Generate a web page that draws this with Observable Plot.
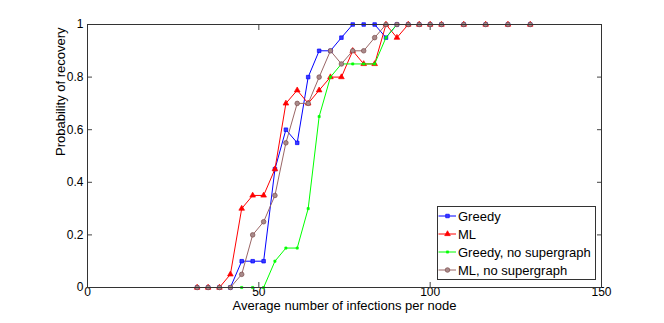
<!DOCTYPE html>
<html>
<head>
<meta charset="utf-8">
<script src="https://cdn.jsdelivr.net/npm/d3@7"></script>
<script src="https://cdn.jsdelivr.net/npm/@observablehq/plot@0.6"></script>
<style>
  html, body { margin: 0; padding: 0; background: #fff; }
  #wrap { position: relative; width: 664px; height: 323px; font-family: "Liberation Sans", Arial, sans-serif; }
  #legend { position: absolute; left: 437px; top: 206px; width: 157px; height: 72px; border: 1px solid #333; background: #fff; }
  .row { height: 18px; display: flex; align-items: center; font-size: 13px; color: #000; white-space: nowrap; }
  .row svg { display: block; margin-right: 1px; }
</style>
</head>
<body>
<div id="wrap"></div>
<script>
// x values (average number of infections per node)
const xs = [32.0, 35.2, 38.5, 41.7, 45.0, 48.2, 51.4, 54.7, 57.9, 61.2, 64.4, 67.6, 70.9, 74.1, 77.4, 80.6, 83.8, 87.1, 90.3, 93.6, 96.8, 100.0, 103.3, 109.8, 116.2, 122.7, 129.2];
const greedy =        [0, 0, 0, 0, 0.10, 0.10, 0.10, 0.45, 0.60, 0.55, 0.80, 0.90, 0.90, 0.95, 1, 1, 1, 0.95, 1, 1, 1, 1, 1, 1, 1, 1, 1];
const ml =            [0, 0, 0, 0.05, 0.30, 0.35, 0.35, 0.45, 0.70, 0.75, 0.70, 0.75, 0.80, 0.80, 0.90, 0.85, 0.85, 1, 0.95, 1, 1, 1, 1, 1, 1, 1, 1];
const greedyNoSuper = [0, 0, 0, 0, 0, 0, 0, 0.10, 0.15, 0.15, 0.30, 0.65, 0.80, 0.85, 0.85, 0.85, 0.85, 0.95, 1, 1, 1, 1, 1, 1, 1, 1, 1];
const mlNoSuper =     [0, 0, 0, 0, 0.05, 0.20, 0.25, 0.35, 0.55, 0.70, 0.70, 0.80, 0.90, 0.85, 0.90, 0.90, 0.95, 1, 1, 1, 1, 1, 1, 1, 1, 1, 1];

const seriesNames = ["Greedy", "ML", "Greedy, no supergraph", "ML, no supergraph"];
const xTicks = [0, 50, 100, 150];
const yTicks = [0, 0.2, 0.4, 0.6, 0.8, 1];
const xLabel = "Average number of infections per node";
const yLabel = "Probability of recovery";

const styles = [
  {line: "#0000ff", symbol: "square", r: 2.0, fill: "#3a3aff", stroke: "#0000ff"},
  {line: "#ff0000", symbol: "triangle", r: 2.1, fill: "#ff0000", stroke: "#ff0000"},
  {line: "#00ff00", symbol: "square", r: 1.2, fill: "#00ff00", stroke: "#00ff00"},
  {line: "#9a6666", symbol: "circle", r: 2.3, fill: "#a88a8a", stroke: "#7d4c4c"}
];
const allValues = [greedy, ml, greedyNoSuper, mlNoSuper];

const seriesMarks = allValues.flatMap((vals, i) => {
  const rows = xs.map((x, j) => ({x, y: vals[j]}));
  const s = styles[i];
  return [
    Plot.line(rows, {x: "x", y: "y", stroke: s.line, strokeWidth: 1}),
    Plot.dot(rows, {x: "x", y: "y", symbol: s.symbol, r: s.r, fill: s.fill, stroke: s.stroke, strokeWidth: 0.7})
  ];
});

const chart = Plot.plot({
  width: 664,
  height: 323,
  marginLeft: 87,
  marginRight: 63,
  marginTop: 24,
  marginBottom: 36,
  style: {fontFamily: "'Liberation Sans', Arial, sans-serif", fontSize: "12px", color: "#000", background: "#fff", overflow: "visible"},
  x: {domain: [0, 150]},
  y: {domain: [0, 1]},
  marks: [
    Plot.axisX({anchor: "bottom", ticks: xTicks, tickSize: -5, tickPadding: 5, tickFormat: d => String(d), label: null, stroke: "#444"}),
    Plot.axisX({anchor: "top", ticks: xTicks, tickSize: -5, tickFormat: () => "", label: null, stroke: "#444"}),
    Plot.axisY({anchor: "left", ticks: yTicks, tickSize: -5, tickPadding: 9, tickFormat: d => String(d), label: null, stroke: "#444"}),
    Plot.axisY({anchor: "right", ticks: yTicks, tickSize: -5, tickFormat: () => "", label: null, stroke: "#444"}),
    ...seriesMarks,
    Plot.frame({stroke: "#333"}),
    Plot.text([xLabel], {frameAnchor: "bottom", dy: 22, text: d => d, fontSize: 13, fill: "#000"}),
    Plot.text([yLabel], {frameAnchor: "left", dx: -27, rotate: -90, text: d => d, fontSize: 13, fill: "#000"})
  ]
});

const wrap = document.getElementById("wrap");
wrap.appendChild(chart);

// legend
const legend = document.createElement("div");
legend.id = "legend";
seriesNames.forEach((name, i) => {
  const s = styles[i];
  const row = document.createElement("div");
  row.className = "row";
  const svg = d3.create("svg").attr("width", 19).attr("height", 18);
  svg.append("line").attr("x1", 0.5).attr("x2", 18).attr("y1", 9).attr("y2", 9).attr("stroke", s.line).attr("stroke-width", 1);
  const size = Math.PI * s.r * s.r;
  const sym = {square: d3.symbolSquare, triangle: d3.symbolTriangle, circle: d3.symbolCircle}[s.symbol];
  svg.append("path").attr("d", d3.symbol(sym, size)()).attr("transform", "translate(9.5,9)")
    .attr("fill", s.fill).attr("stroke", s.stroke).attr("stroke-width", 0.7);
  row.appendChild(svg.node());
  const span = document.createElement("span");
  span.textContent = name;
  row.appendChild(span);
  legend.appendChild(row);
});
wrap.appendChild(legend);
</script>
</body>
</html>
